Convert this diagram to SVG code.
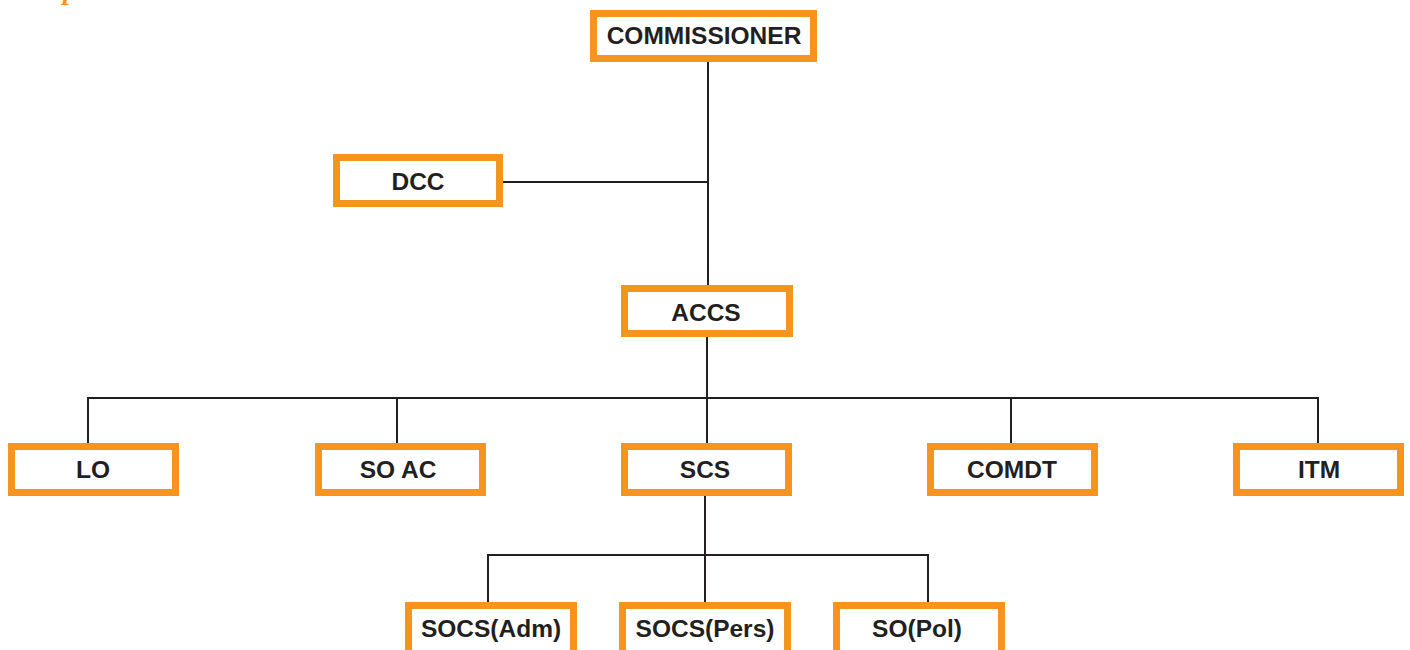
<svg xmlns="http://www.w3.org/2000/svg" width="1410" height="650" viewBox="0 0 1410 650">
  <style>
    .box { fill: #ffffff; stroke: #f7941d; stroke-width: 7; }
    .lbl { font-family: "Liberation Sans", Arial, sans-serif; font-weight: bold; font-size: 24.5px; fill: #231f20; text-anchor: middle; }
    .wire { fill: none; stroke: #231f20; stroke-width: 2; }
  </style>
  <rect width="1410" height="650" fill="#ffffff"/>
  <!-- heading descender clipped at the top edge -->
  <text x="63" y="-1" font-family="'Liberation Serif', serif" font-size="28" font-style="italic" font-weight="bold" fill="#f7941d">p</text>

  <g id="connectors">
    <path class="wire" d="M708 62 V285"/>
    <path class="wire" d="M503 182 H708"/>
    <path class="wire" d="M707 337 V443"/>
    <path class="wire" d="M88 443 V398 H1318 V443"/>
    <path class="wire" d="M397 398 V443"/>
    <path class="wire" d="M1011 398 V443"/>
    <path class="wire" d="M705 496 V602"/>
    <path class="wire" d="M488 602 V555 H928 V602"/>
  </g>

  <g id="commissioner"><rect class="box" x="593.5" y="13.5" width="220" height="45"/><text class="lbl" x="704" y="44">COMMISSIONER</text></g>
  <g id="dcc"><rect class="box" x="336.5" y="157.5" width="163" height="46"/><text class="lbl" x="418" y="190">DCC</text></g>
  <g id="accs"><rect class="box" x="624.5" y="288.5" width="165" height="45"/><text class="lbl" x="706" y="321">ACCS</text></g>
  <g id="lo"><rect class="box" x="11.5" y="446.5" width="164" height="46"/><text class="lbl" x="93" y="478">LO</text></g>
  <g id="so-ac"><rect class="box" x="318.5" y="446.5" width="164" height="46"/><text class="lbl" x="398" y="478">SO AC</text></g>
  <g id="scs"><rect class="box" x="624.5" y="446.5" width="164" height="46"/><text class="lbl" x="705" y="478">SCS</text></g>
  <g id="comdt"><rect class="box" x="930.5" y="446.5" width="164" height="46"/><text class="lbl" x="1012" y="478">COMDT</text></g>
  <g id="itm"><rect class="box" x="1236.5" y="446.5" width="164" height="46"/><text class="lbl" x="1319" y="478">ITM</text></g>
  <g id="socs-adm"><rect class="box" x="408.5" y="605.5" width="165" height="50"/><text class="lbl" x="491" y="637">SOCS(Adm)</text></g>
  <g id="socs-pers"><rect class="box" x="622.5" y="605.5" width="165" height="50"/><text class="lbl" x="705" y="637">SOCS(Pers)</text></g>
  <g id="so-pol"><rect class="box" x="836.5" y="605.5" width="165" height="50"/><text class="lbl" x="917" y="637">SO(Pol)</text></g>
</svg>
